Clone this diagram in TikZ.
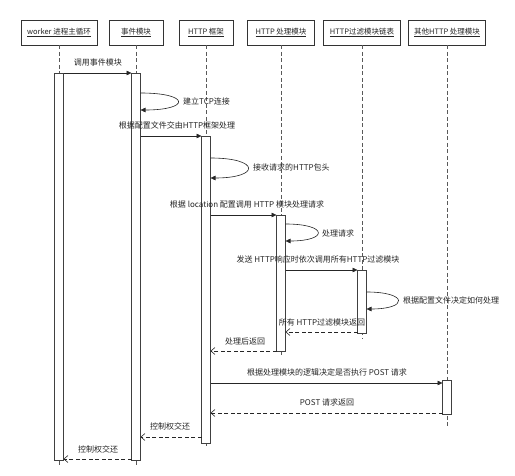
\documentclass[tikz,border=0pt]{standalone}
\usepackage{fontspec}
\setmainfont{Noto Sans CJK SC}
\usetikzlibrary{arrows.meta}
\begin{document}
\begin{tikzpicture}[x=1pt,y=-1pt,
  obj/.style={draw=black!80, line width=0.8pt, minimum height=25pt, inner sep=0pt, font=\fontsize{7.5}{9}\selectfont, text=black!85},
  life/.style={draw=black!65, dash pattern=on 4pt off 2.5pt, line width=0.6pt},
  bar/.style={draw=black!75, fill=white, line width=0.8pt, minimum width=9pt, inner sep=0pt},
  call/.style={draw=black!85, line width=0.6pt, -{Triangle[length=5pt,width=4.5pt]}},
  ret/.style={draw=black!85, line width=0.6pt, dash pattern=on 4pt off 2.5pt, -{Straight Barb[length=4pt,width=7pt]}},
  lbl/.style={font=\fontsize{8}{9}\selectfont, text=black!85, inner sep=1pt}]
\fill[white] (0,0) rectangle (515,476);
\useasboundingbox (0,0) rectangle (515,476);
% headers
\node[obj, minimum width=76pt] (w) at (59,32.5) {\underline{worker 进程主循环}};
\node[obj, minimum width=54pt] (e) at (136,32.5) {\underline{事件模块}};
\node[obj, minimum width=54pt] (f) at (206,32.5) {\underline{HTTP 框架}};
\node[obj, minimum width=67pt] (p) at (281,32.5) {\underline{HTTP 处理模块}};
\node[obj, minimum width=77pt] (l) at (362,32.5) {\underline{HTTP过滤模块链表}};
\node[obj, minimum width=77pt] (o) at (447,32.5) {\underline{其他HTTP 处理模块}};
% lifeline ends
\coordinate (we) at (59,465);
\coordinate (ee) at (136,465);
\coordinate (fe) at (206,448);
\coordinate (pe) at (281,356);
\coordinate (le) at (362,338);
\coordinate (oe) at (447,428);
\draw[life] (w.south) -- (we);
\draw[life] (e.south) -- (ee);
\draw[life] (f.south) -- (fe);
\draw[life] (p.south) -- (pe);
\draw[life] (l.south) -- (le);
\draw[life] (o.south) -- (oe);
% activation bars
\node[bar, minimum height=387pt] (bw) at (59,266.5) {};
\node[bar, minimum height=387pt] (be) at (136,266.5) {};
\node[bar, minimum height=307pt] (bf) at (206,289.5) {};
\node[bar, minimum height=136pt] (bp) at (281,283) {};
\node[bar, minimum height=63pt] (bl) at (362,301.5) {};
\node[bar, minimum height=34pt] (bo) at (447,397) {};
% coordinates
\coordinate (m1a) at (63.5,73);  \coordinate (m1b) at (131.5,73);
\coordinate (s1a) at (140.5,93); \coordinate (s1b) at (140.5,110);
\coordinate (m3a) at (140.5,136); \coordinate (m3b) at (201.5,136);
\coordinate (s2a) at (210.5,158); \coordinate (s2b) at (210.5,178);
\coordinate (m5a) at (210.5,215); \coordinate (m5b) at (276.5,215);
\coordinate (s3a) at (285.5,224); \coordinate (s3b) at (285.5,241);
\coordinate (m7a) at (285.5,270); \coordinate (m7b) at (357.5,270);
\coordinate (s4a) at (366.5,292); \coordinate (s4b) at (366.5,309);
\coordinate (r1a) at (357.5,332); \coordinate (r1b) at (285.5,332);
\coordinate (r2a) at (276.5,351); \coordinate (r2b) at (210.5,351);
\coordinate (m11a) at (210.5,383); \coordinate (m11b) at (442.5,383);
\coordinate (r3a) at (442.5,413); \coordinate (r3b) at (210.5,413);
\coordinate (r4a) at (201.5,437); \coordinate (r4b) at (140.5,437);
\coordinate (r5a) at (131.5,459); \coordinate (r5b) at (63.5,459);
% messages
\draw[call] (m1a) -- (m1b);
\node[lbl] (t1) at (98,62) {调用事件模块};
\draw[call] (s1a) .. controls +(50,0) and +(50,0) .. (s1b);
\node[lbl, anchor=west] (t2) at (182,101) {建立TCP连接};
\draw[call] (m3a) -- (m3b);
\node[lbl] (t3) at (177,125) {根据配置文件交由HTTP框架处理};
\draw[call] (s2a) .. controls +(50,0) and +(50,0) .. (s2b);
\node[lbl, anchor=west] (t4) at (252,167) {接收请求的HTTP包头};
\draw[call] (m5a) -- (m5b);
\node[lbl] (t5) at (247,204) {根据 location 配置调用 HTTP 模块处理请求};
\draw[call] (s3a) .. controls +(43,0) and +(43,0) .. (s3b);
\node[lbl, anchor=west] (t6) at (321,233) {处理请求};
\draw[call] (m7a) -- (m7b);
\node[lbl] (t7) at (318,259) {发送 HTTP响应时依次调用所有HTTP过滤模块};
\draw[call] (s4a) .. controls +(42,0) and +(42,0) .. (s4b);
\node[lbl, anchor=west] (t8) at (402,300) {根据配置文件决定如何处理};
\draw[ret] (r1a) -- (r1b);
\node[lbl] (t9) at (322,322) {所有 HTTP过滤模块返回};
\draw[ret] (r2a) -- (r2b);
\node[lbl] (t10) at (245,341) {处理后返回};
\draw[call] (m11a) -- (m11b);
\node[lbl] (t11) at (327,372) {根据处理模块的逻辑决定是否执行 POST 请求};
\draw[ret] (r3a) -- (r3b);
\node[lbl] (t12) at (327,402) {POST 请求返回};
\draw[ret] (r4a) -- (r4b);
\node[lbl] (t13) at (170,426) {控制权交还};
\draw[ret] (r5a) -- (r5b);
\node[lbl] (t14) at (98,449) {控制权交还};
\end{tikzpicture}
\end{document}
